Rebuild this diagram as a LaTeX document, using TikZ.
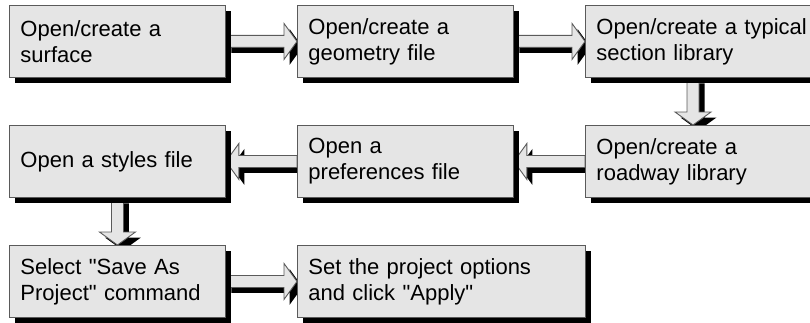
\documentclass[tikz,border=0pt]{standalone}
\usepackage{fontspec}
\setmainfont{Liberation Sans}
\usetikzlibrary{shadows,backgrounds}
\definecolor{boxfill}{RGB}{229,229,229}
\definecolor{boxline}{RGB}{90,90,90}
\tikzset{
    blackshadow/.style={general shadow={fill=black, shadow xshift=5.5pt, shadow yshift=-5.5pt}},
    stepbox/.style={draw=boxline, fill=boxfill, line width=0.9pt, blackshadow,
        anchor=north west, minimum height=72pt, inner xsep=11pt, inner ysep=0pt,
        text width=#1, align=left, font=\fontsize{22pt}{26pt}\selectfont},
    stepbox/.default=194pt,
    blockarrow/.style={draw=boxline, fill=boxfill, line width=0.9pt, blackshadow}
}
\begin{document}
\begin{tikzpicture}[x=1pt, y=1pt]
        \useasboundingbox (0,0) rectangle (810,322);

        % First row: surface, geometry, typical section library
        \node[stepbox] (surface) at (9,317) {Open/create a\\surface};
        \node[stepbox] (geometry) at (297,317) {Open/create a\\geometry file};
        \node[stepbox=218pt] (section) at (585,317) {Open/create a typical\\section library};

        % Second row: read from right to left
        \node[stepbox] (styles) at (9,197) {Open a styles file};
        \node[stepbox] (preferences) at (297,197) {Open a\\preferences file};
        \node[stepbox=218pt] (roadway) at (585,197) {Open/create a\\roadway library};

        % Third row: save the project
        \node[stepbox] (select) at (9,77) {Select \textquotedbl Save As\\Project\textquotedbl\ command};
        \node[stepbox=266pt] (project) at (297,77) {Set the project options\\and click \textquotedbl Apply\textquotedbl};

        \begin{scope}[on background layer]
            % Block arrows pointing right
            \foreach \src/\dst in {surface/geometry, geometry/section, select/project} {
                \draw[blockarrow] ([yshift=6]\src.east) -- ([xshift=-13,yshift=6]\dst.west) -- ++(0,12)
                    -- (\dst.west) -- ++(-13,-18) -- ++(0,12) -- ([yshift=-6]\src.east) -- cycle;
            }
            % Block arrows pointing left
            \foreach \src/\dst in {roadway/preferences, preferences/styles} {
                \draw[blockarrow] ([yshift=6]\src.west) -- ([xshift=13,yshift=6]\dst.east) -- ++(0,12)
                    -- (\dst.east) -- ++(13,-18) -- ++(0,12) -- ([yshift=-6]\src.west) -- cycle;
            }
            % Block arrows pointing down
            \draw[blockarrow] ([xshift=102]section.south west) -- ([xshift=102,yshift=13]roadway.north west) -- ++(-12,0)
                -- ([xshift=108]roadway.north west) -- ++(18,13) -- ++(-12,0) -- ([xshift=114]section.south west) -- cycle;
            \draw[blockarrow] ([xshift=-6]styles.south) -- ([xshift=-6,yshift=13]select.north) -- ++(-12,0)
                -- (select.north) -- ++(18,13) -- ++(-12,0) -- ([xshift=6]styles.south) -- cycle;
        \end{scope}
\end{tikzpicture}
\end{document}
